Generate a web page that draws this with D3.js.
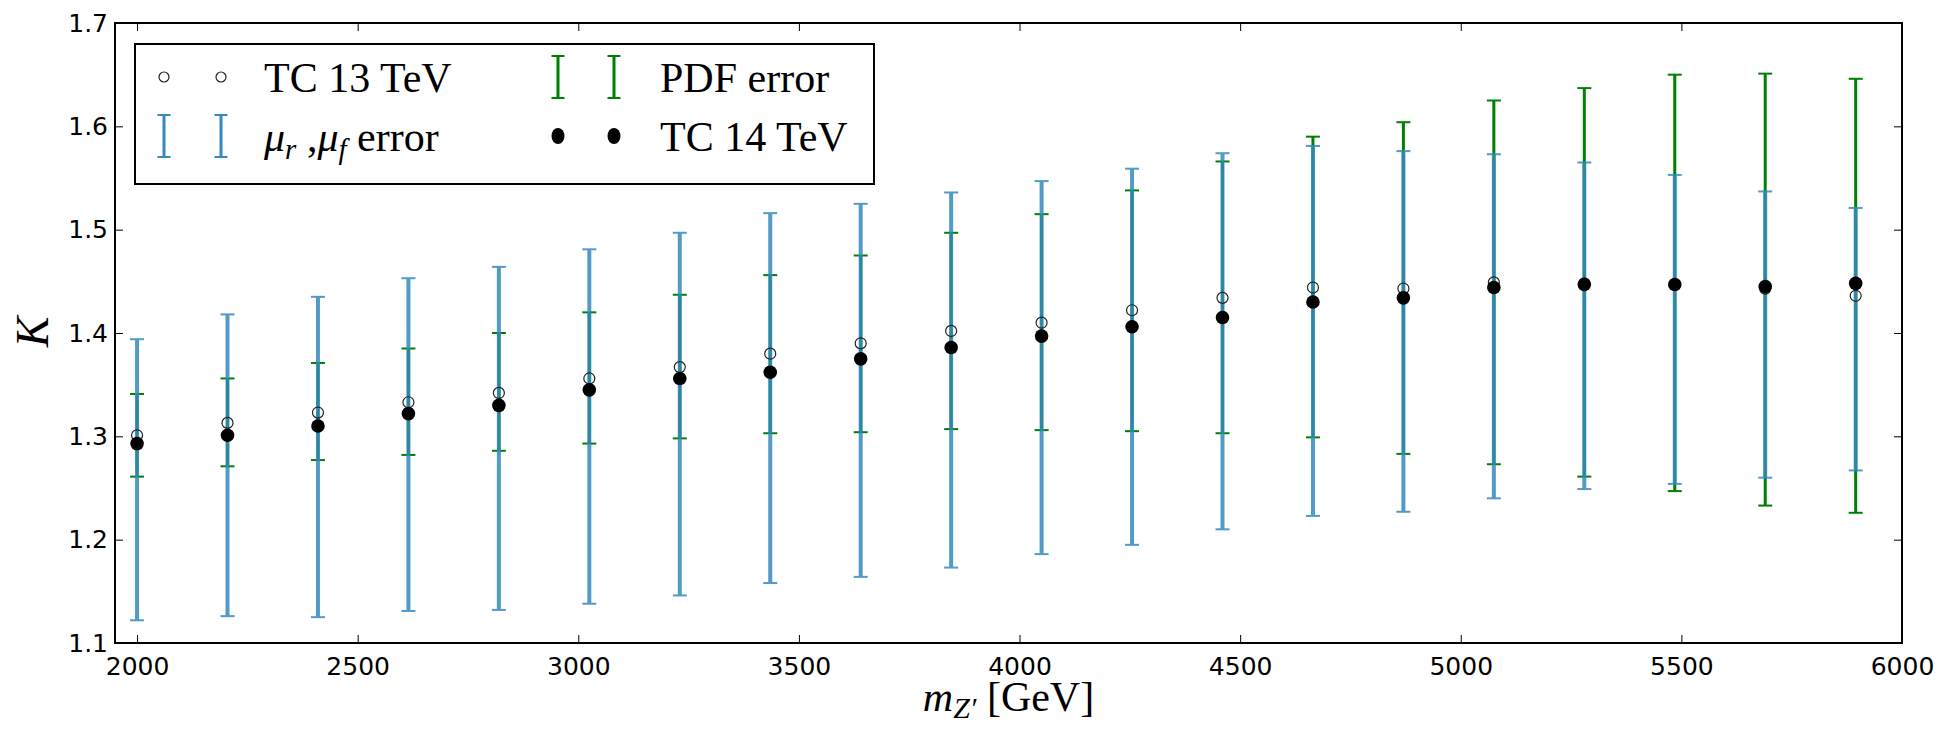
<!DOCTYPE html>
<html>
<head>
<meta charset="utf-8">
<script src="https://d3js.org/d3.v7.min.js"></script>
<style>
  body { margin: 0; background: #fff; }
  svg { display: block; }
</style>
</head>
<body>
<svg id="chart" width="1960" height="732"></svg>
<script>
// mass points (GeV)
var masses = [2000, 2205, 2410, 2615, 2820, 3025, 3230, 3435, 3640, 3845,
              4050, 4255, 4460, 4665, 4870, 5075, 5280, 5485, 5690, 5895];
// K factors
var tc13 = [1.301, 1.313, 1.323, 1.333, 1.342, 1.356, 1.367, 1.380, 1.390, 1.402,
            1.410, 1.422, 1.434, 1.444, 1.443, 1.449, 1.448, 1.447, 1.443, 1.436];
var tc14 = [1.293, 1.301, 1.310, 1.322, 1.330, 1.345, 1.356, 1.362, 1.375, 1.386,
            1.397, 1.406, 1.415, 1.430, 1.434, 1.444, 1.447, 1.447, 1.445, 1.448];
// scale (mu_r, mu_f) error band, upper / lower
var scaleHi = [1.394, 1.418, 1.435, 1.453, 1.464, 1.481, 1.497, 1.516, 1.525, 1.536,
               1.547, 1.559, 1.574, 1.581, 1.576, 1.573, 1.565, 1.553, 1.537, 1.521];
var scaleLo = [1.122, 1.126, 1.125, 1.131, 1.132, 1.138, 1.146, 1.158, 1.164, 1.173,
               1.186, 1.195, 1.210, 1.223, 1.227, 1.240, 1.249, 1.254, 1.260, 1.267];
// PDF error band, upper / lower
var pdfHi = [1.341, 1.356, 1.371, 1.385, 1.400, 1.420, 1.437, 1.456, 1.475, 1.497,
             1.515, 1.538, 1.566, 1.590, 1.604, 1.625, 1.637, 1.650, 1.651, 1.646];
var pdfLo = [1.261, 1.271, 1.277, 1.282, 1.286, 1.293, 1.298, 1.303, 1.304, 1.307,
             1.306, 1.305, 1.303, 1.299, 1.283, 1.273, 1.261, 1.247, 1.233, 1.226];

var xTicks = [2000, 2500, 3000, 3500, 4000, 4500, 5000, 5500, 6000];
var yTicks = [1.1, 1.2, 1.3, 1.4, 1.5, 1.6, 1.7];

var blue = "#348abd", green = "#008000";

var svg = d3.select("#chart");
var plotL = 115, plotR = 1902, plotT = 23, plotB = 643;

var x = d3.scaleLinear().domain([1950, 6000]).range([plotL, plotR]);
var y = d3.scaleLinear().domain([1.1, 1.7]).range([plotB, plotT]);

var points = masses.map(function(m, i) {
  return {m: m, k13: tc13[i], k14: tc14[i], sHi: scaleHi[i], sLo: scaleLo[i], pHi: pdfHi[i], pLo: pdfLo[i]};
});

// axes, ticks pointing inwards on all four sides
var tickFont = "'DejaVu Sans', sans-serif";
var xAxisB = d3.axisBottom(x).tickValues(xTicks).tickSizeInner(-8).tickSizeOuter(0).tickPadding(14).tickFormat(d3.format("d"));
var xAxisT = d3.axisTop(x).tickValues(xTicks).tickSizeInner(-8).tickSizeOuter(0).tickFormat("");
var yAxisL = d3.axisLeft(y).tickValues(yTicks).tickSizeInner(-8).tickSizeOuter(0).tickPadding(7).tickFormat(d3.format(".1f"));
var yAxisR = d3.axisRight(y).tickValues(yTicks).tickSizeInner(-8).tickSizeOuter(0).tickFormat("");

function styleAxis(g) {
  g.select(".domain").remove();
  g.selectAll(".tick line").attr("stroke", "#000").attr("stroke-width", 1);
  g.selectAll(".tick text").attr("font-family", tickFont).attr("font-size", 25).attr("fill", "#000");
}
svg.append("g").attr("transform", "translate(0," + plotB + ")").call(xAxisB).call(styleAxis);
svg.append("g").attr("transform", "translate(0," + plotT + ")").call(xAxisT).call(styleAxis);
svg.append("g").attr("transform", "translate(" + plotL + ",0)").call(yAxisL).call(styleAxis);
svg.append("g").attr("transform", "translate(" + plotR + ",0)").call(yAxisR).call(styleAxis);

// error bars
function errorBars(cls, hi, lo, color, width, opacity) {
  var g = svg.append("g").attr("class", cls).attr("stroke", color).attr("opacity", opacity);
  g.selectAll("line.v").data(points).enter().append("line")
    .attr("x1", function(d) { return x(d.m); }).attr("x2", function(d) { return x(d.m); })
    .attr("y1", function(d) { return y(d[hi]); }).attr("y2", function(d) { return y(d[lo]); })
    .attr("stroke-width", width);
  [hi, lo].forEach(function(key) {
    g.selectAll("line.c" + key).data(points).enter().append("line")
      .attr("x1", function(d) { return x(d.m) - 7; }).attr("x2", function(d) { return x(d.m) + 7; })
      .attr("y1", function(d) { return y(d[key]); }).attr("y2", function(d) { return y(d[key]); })
      .attr("stroke-width", 2);
  });
}
errorBars("pdf", "pHi", "pLo", green, 3, 1);
errorBars("scale", "sHi", "sLo", blue, 4, 0.85);

svg.append("g").selectAll("circle").data(points).enter().append("circle")
  .attr("cx", function(d) { return x(d.m); })
  .attr("cy", function(d) { return y(d.k13); })
  .attr("r", 5.5)
  .attr("fill", "none").attr("stroke", "#222").attr("stroke-width", 1.2);

svg.append("g").selectAll("circle").data(points).enter().append("circle")
  .attr("cx", function(d) { return x(d.m); })
  .attr("cy", function(d) { return y(d.k14); })
  .attr("r", 6.8)
  .attr("fill", "#000");

// frame
svg.append("rect").attr("x", plotL).attr("y", plotT).attr("width", plotR - plotL).attr("height", plotB - plotT)
  .attr("fill", "none").attr("stroke", "#000").attr("stroke-width", 2);

// axis labels
var serif = "'Liberation Serif', 'Times New Roman', serif";
svg.append("text").attr("transform", "translate(48,332) rotate(-90)")
  .attr("text-anchor", "middle").attr("font-family", serif).attr("font-style", "italic")
  .attr("font-size", 46).text("K");

var xl = svg.append("text").attr("x", (plotL + plotR) / 2).attr("y", 711)
  .attr("text-anchor", "middle").attr("font-family", serif).attr("font-size", 42);
xl.append("tspan").attr("font-style", "italic").text("m");
xl.append("tspan").attr("font-style", "italic").attr("font-size", 30).attr("dy", 7).text("Z′");
xl.append("tspan").attr("dy", -7).text(" [GeV]");

// legend
var lg = svg.append("g");
lg.append("rect").attr("x", 135).attr("y", 44).attr("width", 739).attr("height", 140)
  .attr("fill", "#fff").attr("stroke", "#000").attr("stroke-width", 2);

var row1 = 77, row2 = 136;
function legendBar(cx, cy, color, w) {
  lg.append("line").attr("x1", cx).attr("x2", cx).attr("y1", cy - 21).attr("y2", cy + 21)
    .attr("stroke", color).attr("stroke-width", w);
  [cy - 21, cy + 21].forEach(function(yy) {
    lg.append("line").attr("x1", cx - 6.5).attr("x2", cx + 6.5).attr("y1", yy).attr("y2", yy)
      .attr("stroke", color).attr("stroke-width", 2);
  });
}
[164, 221].forEach(function(cx) {
  lg.append("circle").attr("cx", cx).attr("cy", row1).attr("r", 5)
    .attr("fill", "none").attr("stroke", "#222").attr("stroke-width", 1.2);
  legendBar(cx, row2, blue, 3);
});
[558, 614].forEach(function(cx) {
  legendBar(cx, row1, green, 3);
  lg.append("ellipse").attr("cx", cx).attr("cy", row2).attr("rx", 6.5).attr("ry", 8).attr("fill", "#000");
});

function legendText(tx, ty) {
  return lg.append("text").attr("x", tx).attr("y", ty).attr("dy", "0.35em")
    .attr("font-family", serif).attr("font-size", 42);
}
legendText(264, row1).text("TC 13 TeV");
legendText(660, row1).text("PDF error");
legendText(660, row2).text("TC 14 TeV");
var mu = legendText(264, row2);
mu.append("tspan").attr("font-style", "italic").text("μ");
mu.append("tspan").attr("font-style", "italic").attr("font-size", 29).attr("dy", 8).text("r");
mu.append("tspan").attr("dy", -8).text(" ,");
mu.append("tspan").attr("font-style", "italic").text("μ");
mu.append("tspan").attr("font-style", "italic").attr("font-size", 29).attr("dy", 8).text("f");
mu.append("tspan").attr("dy", -8).text(" error");
</script>
</body>
</html>
